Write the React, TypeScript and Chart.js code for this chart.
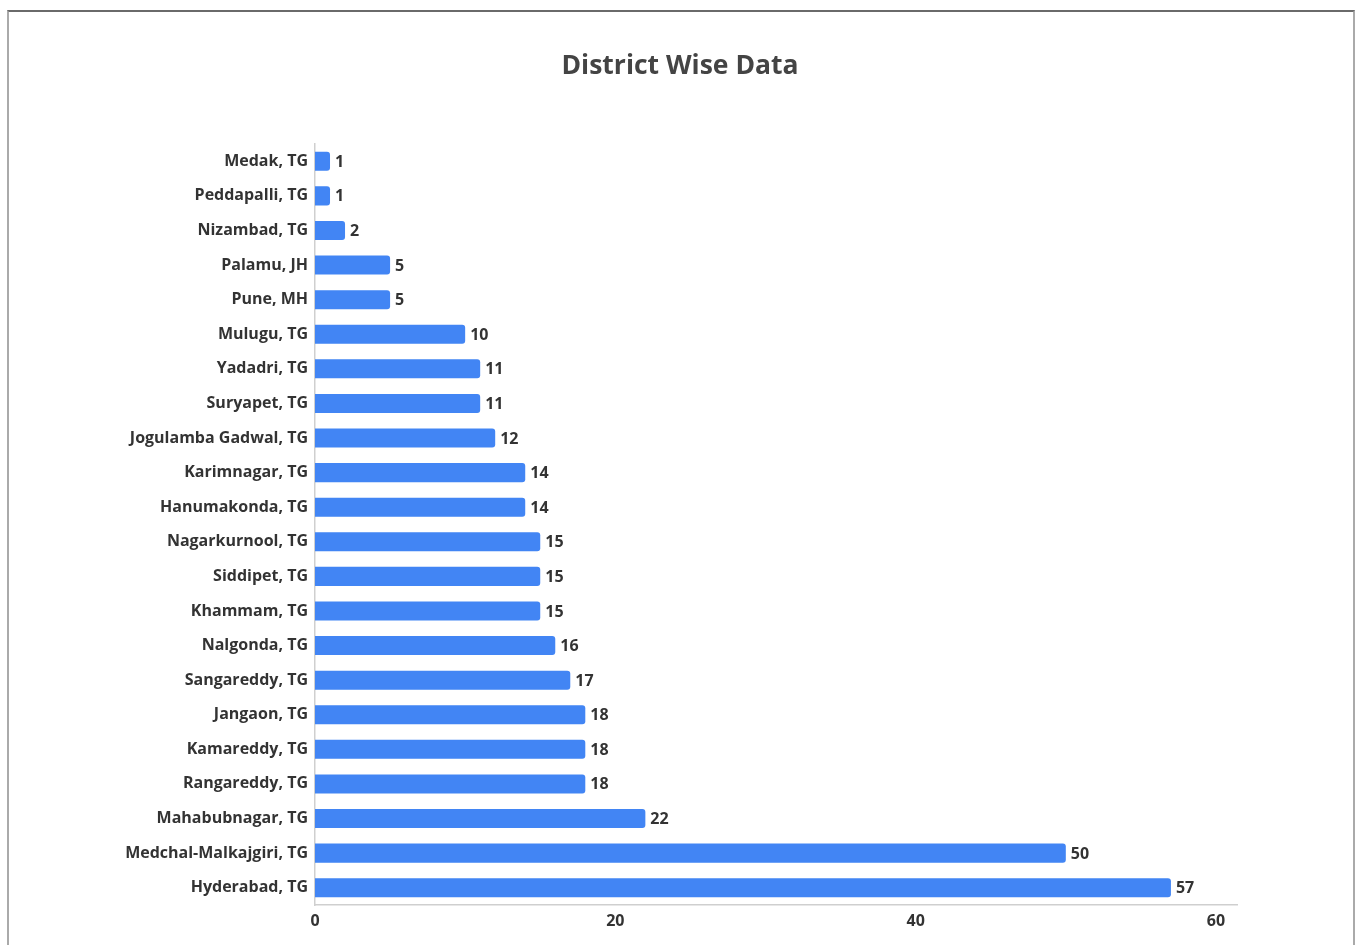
import React, { useEffect, useRef } from "react";
import { Chart, registerables } from "chart.js";

Chart.register(...registerables);

const categories = [
  "Medak, TG",
  "Peddapalli, TG",
  "Nizambad, TG",
  "Palamu, JH",
  "Pune, MH",
  "Mulugu, TG",
  "Yadadri, TG",
  "Suryapet, TG",
  "Jogulamba Gadwal, TG",
  "Karimnagar, TG",
  "Hanumakonda, TG",
  "Nagarkurnool, TG",
  "Siddipet, TG",
  "Khammam, TG",
  "Nalgonda, TG",
  "Sangareddy, TG",
  "Jangaon, TG",
  "Kamareddy, TG",
  "Rangareddy, TG",
  "Mahabubnagar, TG",
  "Medchal-Malkajgiri, TG",
  "Hyderabad, TG",
];

const values = [1, 1, 2, 5, 5, 10, 11, 11, 12, 14, 14, 15, 15, 15, 16, 17, 18, 18, 18, 22, 50, 57];

const xTicks = [0, 20, 40, 60];

const titleText = "District Wise Data";

const FONT = "'Open Sans', 'Noto Sans', sans-serif";

export default function App() {
  const canvasRef = useRef<HTMLCanvasElement | null>(null);

  useEffect(() => {
    const canvas = canvasRef.current;
    if (!canvas) return;
    let chart: any = null;
    let cancelled = false;

    const labelPlugin = {
      id: "valueLabels",
      afterDatasetsDraw(c: any) {
        const ctx = c.ctx;
        const meta = c.getDatasetMeta(0);
        ctx.save();
        ctx.font = `bold 16px ${FONT}`;
        ctx.fillStyle = "#333333";
        ctx.textAlign = "left";
        ctx.textBaseline = "middle";
        meta.data.forEach((bar: any, i: number) => {
          ctx.fillText(String(values[i]), bar.x + 5, bar.y + 1);
        });
        ctx.restore();
      },
      afterDraw(c: any) {
        const ctx = c.ctx;
        ctx.save();
        ctx.font = `bold 26.5px ${FONT}`;
        ctx.fillStyle = "#444444";
        ctx.textAlign = "center";
        ctx.textBaseline = "middle";
        ctx.fillText(titleText, 680, 66);
        ctx.restore();
      },
    };

    const build = () => {
      if (cancelled) return;
      chart = new Chart(canvas, {
        type: "bar",
        data: {
          labels: categories,
          datasets: [
            {
              data: values,
              backgroundColor: "#4285F4",
              borderRadius: 3,
              borderSkipped: "start",
              barPercentage: 0.55,
              categoryPercentage: 1,
            },
          ],
        },
        options: {
          indexAxis: "y",
          responsive: false,
          animation: false,
          layout: { padding: { left: 0, right: 120, top: 144, bottom: 0 } },
          plugins: {
            legend: { display: false },
            title: { display: false },
            tooltip: { enabled: false },
          },
          scales: {
            x: {
              min: 0,
              max: 61.4,
              grid: { display: false, drawTicks: false },
              border: { display: true, color: "#cfcfcf", width: 1.5 },
              afterFit: (s: any) => {
                s.height = 40;
              },
              afterBuildTicks: (s: any) => {
                s.ticks = xTicks.map((v) => ({ value: v }));
              },
              ticks: {
                padding: 7,
                color: "#333333",
                font: { family: FONT, size: 16, weight: "bold" },
              },
            },
            y: {
              grid: { display: false, drawTicks: false },
              border: { display: true, color: "#cfcfcf", width: 1.5 },
              afterFit: (s: any) => {
                s.width = 315;
              },
              ticks: {
                padding: 7,
                color: "#333333",
                autoSkip: false,
                font: { family: FONT, size: 16, weight: "bold" },
              },
            },
          },
        },
        plugins: [labelPlugin],
      });
    };

    const fonts: any = (document as any).fonts;
    if (fonts && fonts.load) {
      Promise.all([
        fonts.load("bold 16px 'Open Sans'"),
        fonts.load("bold 26px 'Open Sans'"),
      ])
        .catch(() => null)
        .then(build);
    } else {
      build();
    }

    return () => {
      cancelled = true;
      if (chart) chart.destroy();
    };
  }, []);

  return (
    <div style={{ position: "fixed", left: 0, top: 0, width: 1357, height: 945, overflow: "hidden", background: "#fff" }}>
      <div
        style={{
          position: "absolute",
          left: 7,
          top: 10,
          width: 1344,
          height: 1000,
          borderTop: "2px solid #6a6a6a",
          borderLeft: "2px solid #aaaaaa",
          borderRight: "2px solid #aaaaaa",
        }}
      />
      <canvas
        ref={canvasRef}
        width={1357}
        height={945}
        style={{ position: "absolute", left: 0, top: 0, width: 1357, height: 945 }}
      />
    </div>
  );
}
